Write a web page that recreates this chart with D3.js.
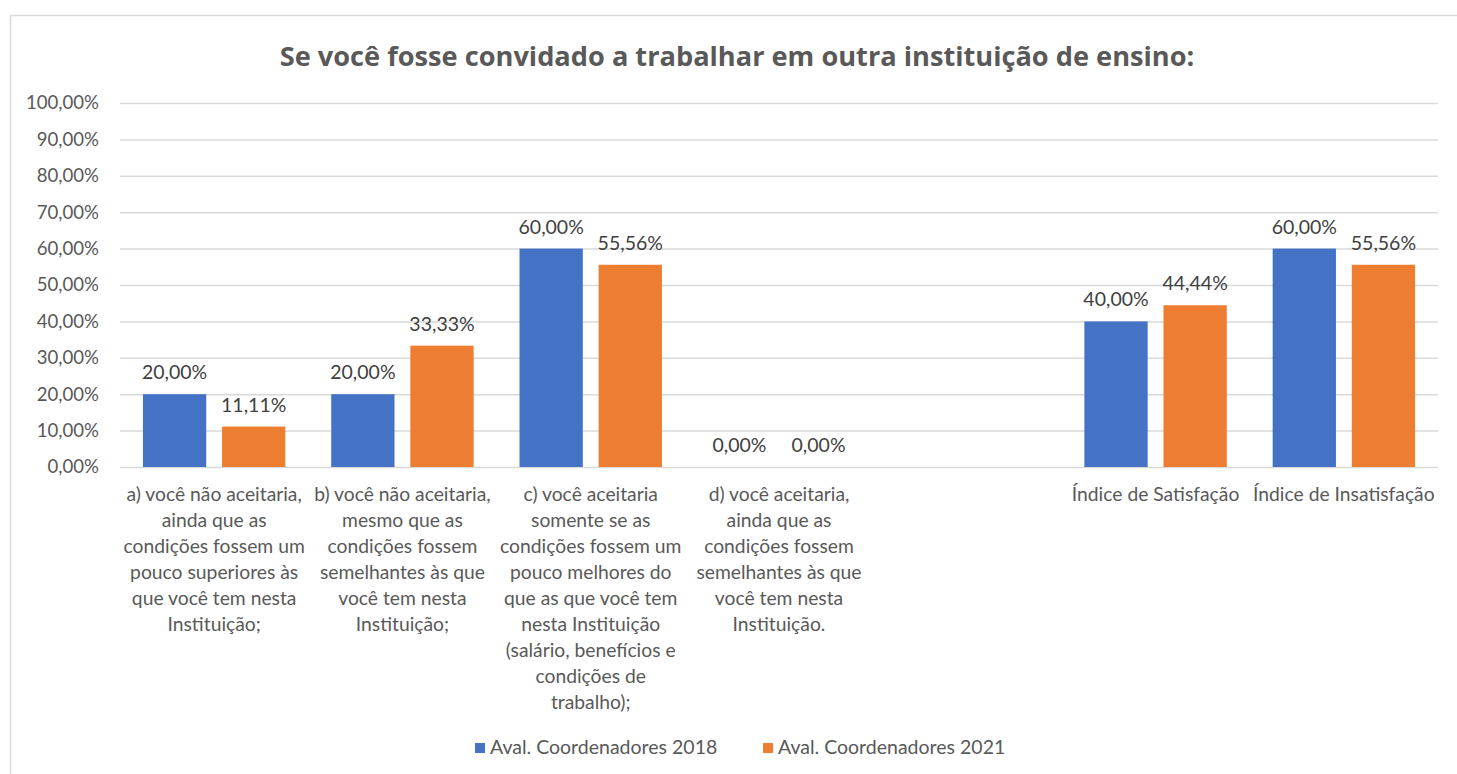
<!DOCTYPE html>
<html>
<head>
<meta charset="utf-8">
<script src="https://cdnjs.cloudflare.com/ajax/libs/d3/7.8.5/d3.min.js"></script>
<style>
  body { margin: 0; background: #fff; }
  svg { display: block; font-family: Lato, "Open Sans", sans-serif; }
</style>
</head>
<body>
<svg id="chart" width="1457" height="774"></svg>
<script>
// categories, each label already split into its lines
var categories = ["a", "b", "c", "d", "gap", "sat", "insat"];
var categoryLines = [
  ["a) você não aceitaria,", "ainda que as", "condições fossem um", "pouco superiores às", "que você tem nesta", "Instituição;"],
  ["b) você não aceitaria,", "mesmo que as", "condições fossem", "semelhantes às que", "você tem nesta", "Instituição;"],
  ["c) você aceitaria", "somente se as", "condições fossem um", "pouco melhores do", "que as que você tem", "nesta Instituição", "(salário, benefícios e", "condições de", "trabalho);"],
  ["d) você aceitaria,", "ainda que as", "condições fossem", "semelhantes às que", "você tem nesta", "Instituição."],
  [],
  ["Índice de Satisfação"],
  ["Índice de Insatisfação"]
];

var seriesNames = ["Aval. Coordenadores 2018", "Aval. Coordenadores 2021"];
var seriesColors = ["#4472C4", "#ED7D31"];
var values2018 = [20.00, 20.00, 60.00, 0.00, null, 40.00, 60.00];
var values2021 = [11.11, 33.33, 55.56, 0.00, null, 44.44, 55.56];

var yTicks = [0, 10, 20, 30, 40, 50, 60, 70, 80, 90, 100];

var title = "Se você fosse convidado a trabalhar em outra instituição de ensino:";

var svg = d3.select("#chart");

var fmt = function(v) { return v.toFixed(2).replace(".", ",") + "%"; };

// chart frame
svg.append("rect")
    .attr("x", 10.5).attr("y", 15.5)
    .attr("width", 1460).attr("height", 780)
    .attr("fill", "#fff")
    .attr("stroke", "#d9d9d9")
    .attr("stroke-width", 1.5);

var plot = { left: 120, right: 1438, top: 103, bottom: 467 };

var x0 = d3.scaleBand()
    .domain(categories)
    .range([plot.left, plot.right])
    .padding(0);

var x1 = d3.scaleBand()
    .domain([0, 1])
    .range([0, x0.bandwidth()])
    .paddingInner(0.2)
    .paddingOuter(0.29);

var y = d3.scaleLinear()
    .domain([0, 100])
    .range([plot.bottom, plot.top]);

// title
svg.append("text")
    .attr("x", 737)
    .attr("y", 66)
    .attr("text-anchor", "middle")
    .attr("font-family", "'Open Sans', sans-serif")
    .attr("font-size", 27.2)
    .attr("font-weight", "bold")
    .attr("fill", "#595959")
    .text(title);

// y axis with gridlines
var yAxis = d3.axisLeft(y)
    .tickValues(yTicks)
    .tickSize(-(plot.right - plot.left))
    .tickPadding(21)
    .tickFormat(fmt);

var yg = svg.append("g")
    .attr("transform", "translate(" + plot.left + ",0)")
    .call(yAxis);
yg.select(".domain").remove();
yg.selectAll(".tick line")
    .attr("stroke", "#d9d9d9")
    .attr("stroke-width", 1.5);
yg.selectAll(".tick text")
    .attr("font-family", "Lato, 'Open Sans', sans-serif")
    .attr("font-size", 18.6)
    .attr("fill", "#595959");

// bars
var rows = categories.map(function(c, i) {
  return { cat: c, vals: [values2018[i], values2021[i]] };
});

var groups = svg.append("g").selectAll("g")
    .data(rows)
    .enter().append("g")
    .attr("transform", function(d) { return "translate(" + x0(d.cat) + ",0)"; });

var bars = groups.selectAll("g.bar")
    .data(function(d) {
      return d.vals.map(function(v, k) { return { k: k, v: v }; })
        .filter(function(e) { return e.v !== null; });
    })
    .enter().append("g")
    .attr("class", "bar");

bars.append("rect")
    .attr("x", function(d) { return x1(d.k); })
    .attr("width", x1.bandwidth())
    .attr("y", function(d) { return y(d.v); })
    .attr("height", function(d) { return y(0) - y(d.v); })
    .attr("fill", function(d) { return seriesColors[d.k]; });

bars.append("text")
    .attr("x", function(d) { return x1(d.k) + x1.bandwidth() / 2; })
    .attr("y", function(d) { return y(d.v) - 15; })
    .attr("text-anchor", "middle")
    .attr("font-size", 19.5)
    .attr("fill", "#404040")
    .text(function(d) { return fmt(d.v); });

// category labels
var catLabels = svg.append("g").selectAll("text")
    .data(categories)
    .enter().append("text")
    .attr("text-anchor", "middle")
    .attr("font-size", 19.3)
    .attr("fill", "#595959");

catLabels.selectAll("tspan")
    .data(function(d, i) { return categoryLines[i]; })
    .enter().append("tspan")
    .attr("x", function() {
      var c = d3.select(this.parentNode).datum();
      return x0(c) + x0.bandwidth() / 2;
    })
    .attr("y", function(d, j) { return 501 + j * 26; })
    .text(function(d) { return d; });

// legend
var legendX = [475, 763];
var legend = svg.append("g").selectAll("g")
    .data(seriesNames)
    .enter().append("g")
    .attr("transform", function(d, i) { return "translate(" + legendX[i] + ",743)"; });

legend.append("rect")
    .attr("width", 10).attr("height", 10)
    .attr("fill", function(d, i) { return seriesColors[i]; });

legend.append("text")
    .attr("x", 15)
    .attr("y", 11)
    .attr("font-size", 19.5)
    .attr("fill", "#595959")
    .text(function(d) { return d; });
</script>
</body>
</html>
